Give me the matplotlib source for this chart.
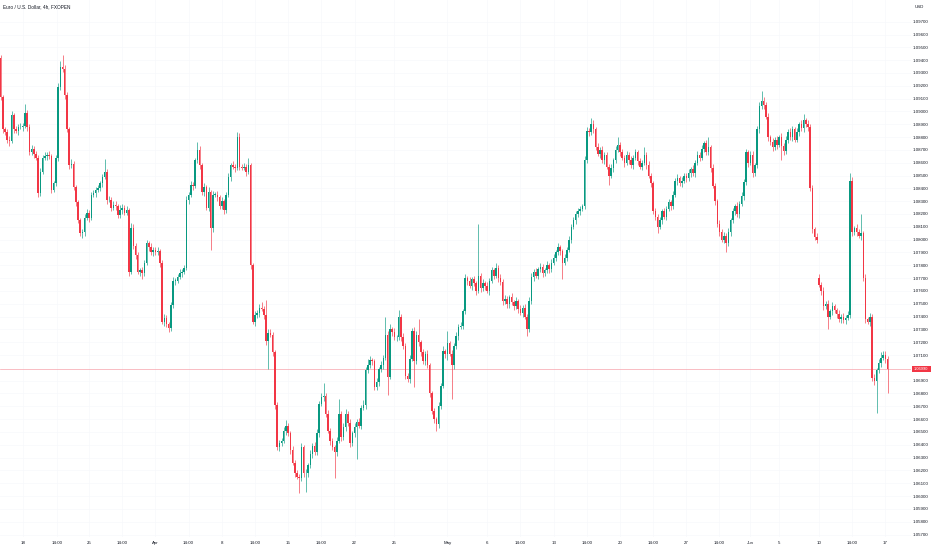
import matplotlib
matplotlib.use("Agg")
import matplotlib.pyplot as plt
from matplotlib.patches import Rectangle

# ---------------- data ----------------
title = "Euro / U.S. Dollar, 4h, FXOPEN"
currency = "USD"
first_open = 1.0942
gap_opens = {370: 1.0770}

closes = [
    1.0911, 1.0886, 1.0884, 1.0878, 1.0877, 1.0897, 1.0886, 1.0885, 1.0888, 1.0888,
    1.0889, 1.0899, 1.0888, 1.0868, 1.0871, 1.0867, 1.0864, 1.0836, 1.0853, 1.0864,
    1.0865, 1.0866, 1.0865, 1.0839, 1.0844, 1.0864, 1.0919, 1.0935, 1.0933, 1.0913,
    1.0886, 1.0858, 1.0859, 1.0841, 1.0829, 1.0815, 1.0805, 1.0806, 1.0817, 1.0821,
    1.0817, 1.0835, 1.0836, 1.0839, 1.0840, 1.0844, 1.0849, 1.0853, 1.0831, 1.0831,
    1.0825, 1.0827, 1.0826, 1.0819, 1.0823, 1.0825, 1.0821, 1.0823, 1.0775, 1.0809,
    1.0795, 1.0788, 1.0775, 1.0776, 1.0774, 1.0782, 1.0797, 1.0794, 1.0790, 1.0792,
    1.0790, 1.0791, 1.0782, 1.0736, 1.0739, 1.0734, 1.0731, 1.0749, 1.0768, 1.0768,
    1.0771, 1.0774, 1.0775, 1.0778, 1.0831, 1.0835, 1.0843, 1.0842, 1.0862, 1.0870,
    1.0858, 1.0837, 1.0841, 1.0825, 1.0837, 1.0809, 1.0835, 1.0835, 1.0833, 1.0826,
    1.0830, 1.0823, 1.0835, 1.0849, 1.0858, 1.0857, 1.0856, 1.0880, 1.0857, 1.0856,
    1.0857, 1.0853, 1.0858, 1.0780, 1.0736, 1.0741, 1.0743, 1.0747, 1.0746, 1.0741,
    1.0721, 1.0727, 1.0726, 1.0712, 1.0671, 1.0638, 1.0641, 1.0643, 1.0651, 1.0655,
    1.0649, 1.0636, 1.0626, 1.0618, 1.0615, 1.0614, 1.0638, 1.0618, 1.0618, 1.0624,
    1.0633, 1.0639, 1.0634, 1.0649, 1.0672, 1.0677, 1.0678, 1.0664, 1.0651, 1.0643,
    1.0638, 1.0634, 1.0643, 1.0664, 1.0646, 1.0654, 1.0664, 1.0657, 1.0641, 1.0649,
    1.0654, 1.0658, 1.0655, 1.0669, 1.0671, 1.0698, 1.0702, 1.0706, 1.0705, 1.0685,
    1.0689, 1.0699, 1.0702, 1.0708, 1.0726, 1.0693, 1.0730, 1.0728, 1.0724, 1.0724,
    1.0740, 1.0724, 1.0717, 1.0694, 1.0691, 1.0707, 1.0729, 1.0705, 1.0726, 1.0720,
    1.0712, 1.0705, 1.0711, 1.0702, 1.0680, 1.0666, 1.0660, 1.0656, 1.0670, 1.0686,
    1.0713, 1.0711, 1.0719, 1.0711, 1.0702, 1.0717, 1.0725, 1.0732, 1.0733, 1.0744,
    1.0770, 1.0768, 1.0764, 1.0769, 1.0766, 1.0760, 1.0772, 1.0762, 1.0766, 1.0764,
    1.0760, 1.0768, 1.0776, 1.0772, 1.0778, 1.0770, 1.0767, 1.0752, 1.0754, 1.0750,
    1.0755, 1.0751, 1.0748, 1.0752, 1.0746, 1.0743, 1.0747, 1.0740, 1.0730, 1.0752,
    1.0771, 1.0775, 1.0772, 1.0777, 1.0779, 1.0774, 1.0776, 1.0780, 1.0777, 1.0782,
    1.0786, 1.0790, 1.0794, 1.0791, 1.0782, 1.0786, 1.0792, 1.0800, 1.0810, 1.0815,
    1.0820, 1.0822, 1.0824, 1.0826, 1.0862, 1.0885, 1.0884, 1.0890, 1.0886, 1.0872,
    1.0867, 1.0870, 1.0862, 1.0866, 1.0857, 1.0850, 1.0856, 1.0862, 1.0870, 1.0874,
    1.0868, 1.0864, 1.0860, 1.0866, 1.0862, 1.0858, 1.0864, 1.0868, 1.0861, 1.0857,
    1.0860, 1.0866, 1.0858, 1.0850, 1.0844, 1.0822, 1.0818, 1.0810, 1.0815, 1.0822,
    1.0818, 1.0824, 1.0829, 1.0826, 1.0835, 1.0846, 1.0848, 1.0844, 1.0846, 1.0850,
    1.0848, 1.0852, 1.0855, 1.0852, 1.0860, 1.0866, 1.0864, 1.0871, 1.0875, 1.0868,
    1.0872, 1.0856, 1.0842, 1.0830, 1.0812, 1.0806, 1.0800, 1.0803, 1.0797, 1.0806,
    1.0815, 1.0822, 1.0826, 1.0820, 1.0828, 1.0834, 1.0845, 1.0868, 1.0860, 1.0866,
    1.0852, 1.0858, 1.0886, 1.0904, 1.0908, 1.0905, 1.0896, 1.0880, 1.0876, 1.0872,
    1.0878, 1.0874, 1.0880, 1.0873, 1.0869, 1.0878, 1.0884, 1.0880, 1.0886, 1.0878,
    1.0884, 1.0890, 1.0887, 1.0893, 1.0890, 1.0888, 1.0840, 1.0808, 1.0802, 1.0800,
    1.0765, 1.0760, 1.0748, 1.0750, 1.0740, 1.0744, 1.0748, 1.0745, 1.0742, 1.0738,
    1.0740, 1.0737, 1.0739, 1.0741, 1.0846, 1.0806, 1.0809, 1.0806, 1.0803, 1.0805,
    1.0770, 1.0738, 1.0736, 1.0740, 1.0692, 1.0690, 1.0698, 1.0704, 1.0708, 1.0710,
    1.0707, 1.0699,
]

up_wick_pips = [
    2, 2, 2, 2, 3, 3, 2, 3, 2, 3,
    2, 7, 2, 2, 3, 2, 2, 2, 3, 2,
    3, 2, 3, 2, 2, 2, 3, 4, 9, 3,
    2, 2, 4, 2, 2, 2, 2, 2, 3, 3,
    2, 2, 3, 2, 3, 2, 2, 10, 2, 3,
    2, 3, 3, 2, 4, 3, 2, 3, 2, 4,
    3, 2, 2, 2, 3, 2, 3, 2, 3, 2,
    2, 3, 2, 2, 3, 2, 2, 2, 3, 2,
    2, 3, 2, 2, 3, 2, 3, 2, 2, 6,
    3, 2, 3, 2, 4, 2, 3, 2, 3, 2,
    3, 2, 2, 3, 2, 3, 2, 4, 3, 2,
    3, 2, 6, 2, 2, 3, 2, 3, 4, 2,
    12, 3, 3, 2, 2, 2, 3, 2, 3, 4,
    2, 2, 3, 2, 2, 2, 3, 2, 3, 2,
    3, 2, 3, 3, 2, 3, 10, 2, 3, 2,
    2, 2, 3, 12, 2, 3, 4, 2, 3, 2,
    3, 2, 3, 2, 4, 3, 5, 3, 2, 2,
    3, 2, 3, 2, 14, 3, 4, 2, 3, 2,
    5, 2, 3, 2, 2, 3, 2, 3, 3, 12,
    2, 3, 2, 3, 2, 2, 3, 2, 3, 2,
    4, 2, 10, 2, 3, 2, 3, 2, 3, 2,
    3, 2, 3, 2, 3, 2, 40, 2, 3, 2,
    3, 2, 3, 2, 4, 2, 3, 2, 3, 2,
    2, 3, 2, 3, 2, 3, 2, 3, 2, 3,
    3, 2, 3, 2, 3, 2, 2, 3, 2, 3,
    3, 2, 3, 2, 2, 3, 2, 3, 2, 3,
    2, 3, 2, 2, 3, 3, 2, 5, 3, 2,
    3, 2, 3, 2, 2, 2, 3, 2, 3, 6,
    2, 3, 2, 3, 2, 3, 2, 3, 2, 3,
    2, 6, 2, 3, 2, 2, 3, 2, 3, 2,
    3, 2, 3, 2, 3, 2, 3, 2, 3, 2,
    2, 3, 2, 3, 2, 3, 2, 3, 2, 3,
    8, 2, 3, 2, 2, 3, 2, 3, 2, 3,
    2, 3, 2, 3, 2, 3, 2, 3, 2, 3,
    3, 2, 3, 3, 8, 3, 2, 3, 2, 3,
    2, 3, 2, 3, 2, 3, 2, 3, 3, 2,
    3, 2, 3, 5, 2, 3, 2, 3, 2, 3,
    3, 2, 3, 2, 3, 2, 3, 2, 2, 3,
    2, 3, 2, 3, 6, 3, 2, 3, 2, 15,
    2, 3, 2, 3, 2, 3, 2, 3, 4, 3,
    3, 2,
]

dn_wick_pips = [
    2, 3, 2, 3, 4, 2, 3, 2, 3, 2,
    3, 2, 3, 2, 2, 3, 2, 3, 2, 2,
    2, 3, 2, 3, 2, 2, 3, 2, 2, 3,
    2, 3, 2, 2, 3, 2, 2, 4, 3, 2,
    3, 2, 2, 3, 2, 2, 3, 2, 3, 2,
    3, 2, 3, 2, 2, 3, 2, 2, 3, 2,
    2, 3, 2, 3, 5, 2, 2, 3, 2, 3,
    2, 2, 3, 2, 3, 2, 3, 2, 2, 3,
    2, 2, 3, 2, 2, 3, 2, 3, 2, 2,
    3, 2, 3, 2, 3, 17, 3, 2, 3, 2,
    2, 3, 2, 2, 3, 2, 3, 2, 3, 2,
    2, 3, 2, 3, 2, 3, 2, 3, 2, 3,
    3, 22, 2, 3, 3, 2, 3, 2, 2, 3,
    2, 3, 2, 3, 2, 12, 2, 3, 15, 3,
    2, 3, 2, 2, 3, 2, 3, 2, 2, 3,
    2, 20, 3, 2, 3, 2, 3, 2, 3, 2,
    3, 25, 2, 3, 2, 3, 2, 2, 3, 2,
    2, 3, 2, 3, 2, 14, 2, 3, 2, 3,
    2, 3, 2, 3, 2, 3, 2, 20, 2, 3,
    3, 2, 3, 2, 3, 2, 3, 5, 3, 2,
    2, 3, 5, 2, 26, 3, 2, 3, 2, 3,
    2, 3, 2, 3, 2, 3, 2, 3, 2, 3,
    2, 3, 2, 3, 2, 3, 2, 3, 2, 3,
    3, 2, 3, 2, 3, 2, 3, 2, 5, 2,
    2, 3, 2, 3, 2, 3, 2, 2, 3, 2,
    2, 3, 2, 3, 13, 2, 3, 2, 3, 2,
    3, 2, 3, 2, 2, 2, 3, 2, 3, 2,
    2, 3, 2, 3, 2, 7, 2, 3, 2, 2,
    3, 2, 3, 2, 3, 2, 3, 2, 3, 2,
    3, 2, 3, 2, 3, 2, 3, 5, 2, 3,
    2, 3, 2, 3, 2, 2, 3, 2, 3, 2,
    3, 2, 3, 2, 3, 2, 3, 2, 3, 2,
    2, 3, 2, 3, 2, 3, 2, 3, 7, 2,
    3, 2, 3, 2, 3, 2, 3, 2, 3, 2,
    3, 2, 2, 3, 2, 3, 2, 3, 2, 3,
    2, 3, 2, 11, 3, 2, 3, 2, 3, 2,
    2, 3, 2, 3, 2, 3, 2, 3, 2, 3,
    2, 3, 3, 2, 10, 2, 3, 2, 3, 2,
    3, 2, 3, 2, 2, 3, 2, 3, 2, 3,
    2, 3, 2, 3, 2, 3, 25, 2, 3, 2,
    3, 19,
]

price_ticks = [
    1.057, 1.058, 1.059, 1.060, 1.061, 1.062, 1.063, 1.064, 1.065, 1.066,
    1.067, 1.068, 1.069, 1.071, 1.072, 1.073, 1.074, 1.075, 1.076, 1.077,
    1.078, 1.079, 1.080, 1.081, 1.082, 1.083, 1.084, 1.085, 1.086, 1.087,
    1.088, 1.089, 1.090, 1.091, 1.092, 1.093, 1.094, 1.095, 1.096, 1.097,
]

time_tick_pos = [10, 25.5, 40, 55, 70, 85, 100, 115, 130, 145, 160, 178, 202,
                 220, 235, 250, 265, 280, 295, 310, 325, 339, 352, 370, 385, 400]
time_tick_labels = ["18", "14:00", "25", "14:00", "Apr", "14:00", "8", "14:00",
                    "15", "14:00", "22", "25", "May", "6", "14:00", "13", "14:00",
                    "20", "14:00", "27", "14:00", "Jun", "5", "10", "14:00", "17"]

# ---------------- styling ----------------
W, H, DPI = 932, 550, 100
UP = "#089981"
DOWN = "#f23645"
TEXT = "#131722"
GRID = "#f7f8fb"
FONT = ["Liberation Sans", "DejaVu Sans"]
plt.rcParams["font.family"] = FONT

n = len(closes)
opens = []
prev = first_open
for i in range(n):
    o = gap_opens.get(i, prev)
    opens.append(o)
    prev = closes[i]

pip = 0.0001
highs = [max(o, c) + u * pip for o, c, u in zip(opens, closes, up_wick_pips)]
lows = [min(o, c) - d * pip for o, c, d in zip(opens, closes, dn_wick_pips)]
colors = [UP if c >= o else DOWN for o, c in zip(opens, closes)]

fig = plt.figure(figsize=(W / DPI, H / DPI), dpi=DPI)
fig.patch.set_facecolor("white")

ax_right_px = 911
ax_bottom_px = 537
ax = fig.add_axes([0, (H - ax_bottom_px) / H, ax_right_px / W, ax_bottom_px / H])
ax.set_facecolor("white")

# candle geometry: index -> pixel x = 0.58 + 2.212 * i
step = 2.212
ax.set_xlim((0 - 0.58) / step, (ax_right_px - 0.58) / step)
ppx = 1 / 12820.0
ax.set_ylim(1.097 - (ax_bottom_px - 21.7) * ppx, 1.097 + 21.7 * ppx)

for p in price_ticks:
    ax.axhline(p, color=GRID, lw=0.5, zorder=0)
for t in time_tick_pos:
    ax.axvline(t, color=GRID, lw=0.5, zorder=0)

xs = list(range(n))
ax.vlines(xs, lows, highs, colors=colors, linewidth=0.45, zorder=2)
heights = []
bottoms = []
for o, c in zip(opens, closes):
    h = abs(c - o)
    b = min(o, c)
    if h < 0.00005:
        b -= (0.00005 - h) / 2
        h = 0.00005
    heights.append(h)
    bottoms.append(b)
ax.bar(xs, heights, bottom=bottoms, width=0.68, color=colors, linewidth=0, zorder=3)

last = closes[-1]
ax.axhline(last, color="#f7a3ab", lw=0.5, zorder=1)

for s in ax.spines.values():
    s.set_visible(False)

ax.yaxis.tick_right()
ax.set_yticks(price_ticks)
ax.set_yticklabels([f"{p:.5f}" for p in price_ticks])
ax.tick_params(axis="y", length=0, pad=1.1, labelsize=3.2, labelcolor=TEXT)
ax.set_xticks(time_tick_pos)
ax.set_xticklabels(time_tick_labels)
ax.tick_params(axis="x", length=0, pad=2.9, labelsize=3.2, labelcolor=TEXT)

# last-price label on the price scale
y_last_px = 21.7 + (1.097 - last) / ppx
lbl_h = 6.0
fig.patches.append(Rectangle((911.5 / W, (H - y_last_px - lbl_h / 2) / H),
                             19.0 / W, lbl_h / H, transform=fig.transFigure,
                             facecolor=DOWN, edgecolor="none"))
fig.text(921.0 / W, (H - y_last_px) / H, f"{last:.5f}", color="white",
         fontsize=2.9, ha="center", va="center")

fig.text(919 / W, (H - 6.8) / H, currency, color=TEXT, fontsize=3.2,
         ha="center", va="center")
fig.text(3 / W, (H - 6.7) / H, title, color=TEXT, fontsize=3.4,
         ha="left", va="center")

fig.savefig("out.png", dpi=DPI, facecolor="white")
